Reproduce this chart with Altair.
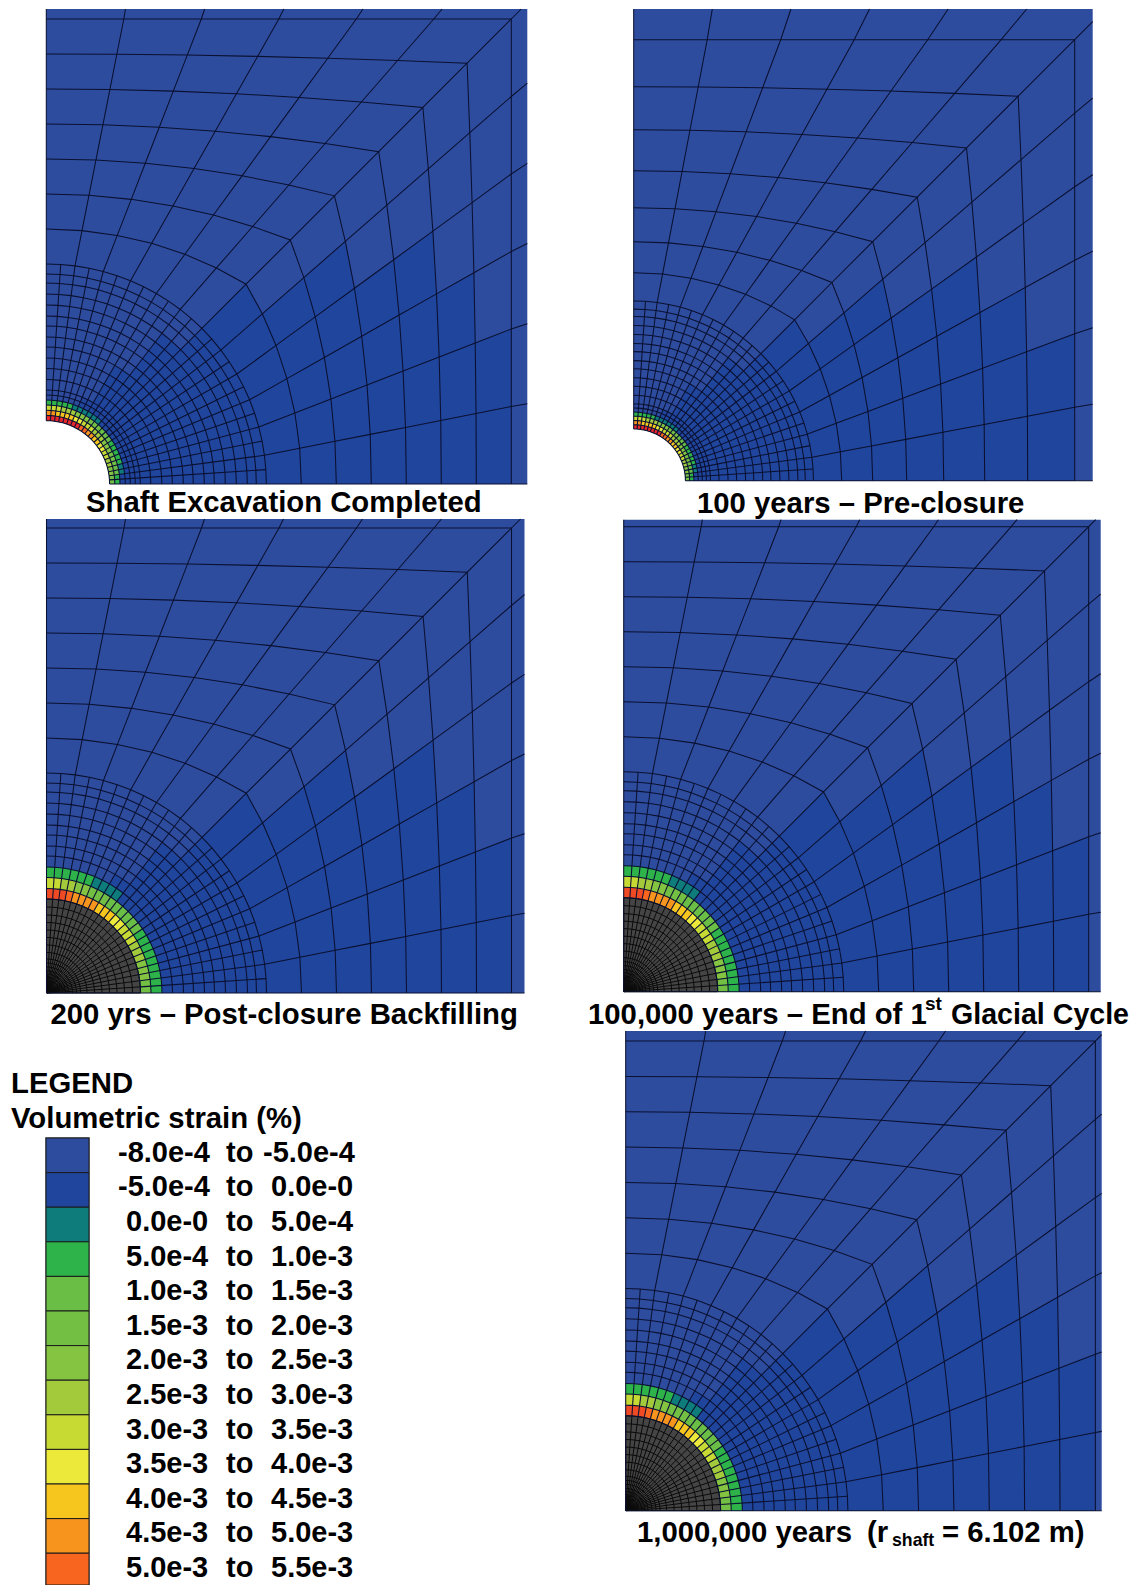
import math
import altair as alt
import pandas as pd

alt.data_transformers.disable_max_rows()

FONT = "Liberation Sans"
# legend colour table, index = strain class
PALETTE = ["#2E4C9E", "#20459C", "#0E7C7B", "#2DB34A", "#6ABD45", "#72BF44", "#85C441",
           "#A2CA3A", "#C7DA34", "#EDE93B", "#F6C51E", "#F7941D", "#F7651F", "#E8272A", "#EF4A24"]
LEGEND_LABELS = [("-8.0e-4", "-5.0e-4"), ("-5.0e-4", "0.0e-0"), ("0.0e-0", "5.0e-4"), ("5.0e-4", "1.0e-3"),
                 ("1.0e-3", "1.5e-3"), ("1.5e-3", "2.0e-3"), ("2.0e-3", "2.5e-3"), ("2.5e-3", "3.0e-3"),
                 ("3.0e-3", "3.5e-3"), ("3.5e-3", "4.0e-3"), ("4.0e-3", "4.5e-3"), ("4.5e-3", "5.0e-3"),
                 ("5.0e-3", "5.5e-3")]

# radii of the fine mesh (px at full scale)
R_THIN = [63.3, 68.5, 73.7, 79, 84, 89, 94]
R_FINE = [94, 104.5, 115.5, 126, 137, 147, 158, 168, 179, 190, 201, 210, 220]
R_CORE = [3, 5, 7, 9, 11, 13, 16, 19, 22, 26, 30, 34, 40.5, 48, 55.5, 63, 70.5, 78, 86, 94]
LEFT_STD = [220, 255, 290, 325, 360, 395, 430, 465]
LEFT_P2 = [180, 208, 239, 273, 310, 351, 394, 441]

# panels: origin x, origin y, frame width, frame height, inner scale, ring list, excavated?
PANELS = [
    (46.3, 484.0, 481, 475, 1.0, LEFT_STD, False),
    (633.7, 480.7, 459, 471.7, 0.817, LEFT_P2, False),
    (46.5, 993.0, 478, 474, 1.0, LEFT_STD, True),
    (623.7, 991.7, 477, 472, 1.0, LEFT_STD, True),
    (625.7, 1510.7, 476, 479.7, 1.01, [v * 1.01 for v in LEFT_STD], True),
]

# strain class per 3.75 degree sector, from the top round to the right
THIN_BANDS = [
    [13] * 8 + [12] * 2 + [11] * 2 + [10] * 2 + [9] * 2 + [8] * 2 + [7] * 2 + [6] * 2 + [5] * 2,
    [11] * 2 + [10] * 4 + [9] * 2 + [8] * 3 + [7] * 3 + [6] * 3 + [5] * 3 + [4] * 2 + [3] * 2,
    [8] * 3 + [7] * 3 + [6] * 3 + [5] * 3 + [4] * 3 + [3] * 5 + [2] * 2 + [1] * 2,
    [3] * 5 + [2] * 6 + [1] * 13,
]
FILL_BANDS = [
    [14] * 3 + [12] + [11] * 4 + [10] * 3 + [9] * 2 + [8] * 3 + [7] * 3 + [6] * 3 + [5] * 2,
    [8] * 2 + [7] * 2 + [6] * 2 + [5] * 3 + [4] * 6 + [3] * 9,
    [3] * 6 + [2] * 4 + [1] * 14,
]
# first darker-blue sector in each fine band (R_FINE order)
DARK_FINE_FROM = [8, 8, 8, 8, 10, 10, 10, 10, 10, 12, 12, 12]
DARK_THIN_FROM = [6, 6, 6, 6, 6, 6]
# coarse mesh: last darker-blue ring per 7.5 degree sector 6..11
DARK_COARSE = {6: 0, 7: 2, 8: 4, 9: 5, 10: 6, 11: 6}

TITLE_SIZE = 29.3
TITLES = [
    ("Shaft Excavation Completed", 86, 512, TITLE_SIZE),
    ("100 years \u2013 Pre-closure", 697, 513, TITLE_SIZE),
    ("200 yrs \u2013 Post-closure Backfilling", 50.5, 1024, TITLE_SIZE),
    ("100,000 years \u2013 End of 1", 588, 1024, TITLE_SIZE),
    ("st", 925, 1010, 19),
    ("Glacial Cycle", 951, 1024, 28.6),
    ("1,000,000 years", 637, 1542, TITLE_SIZE),
    ("(r", 867, 1542, TITLE_SIZE),
    ("shaft", 892, 1546, 17.7),
    ("= 6.102 m)", 942, 1542, TITLE_SIZE),
    ("LEGEND", 11, 1093, TITLE_SIZE),
    ("Volumetric strain (%)", 11, 1128, TITLE_SIZE),
]
ROW_TOP = 1138
ROW_H = 34.6
SW_X = (46.0, 89.0)
ROW_SIZE = 29


def polar(r, s):
    a = math.radians(3.75 * s)
    return r * math.sin(a), r * math.cos(a)


def coarse_node(left, k, j):
    """ring k, spoke j (0..12 from top to right)"""
    R1, L7 = left[0], left[7]
    m = j if j <= 6 else 12 - j
    a = math.radians(7.5 * m)
    p0 = (R1 * math.sin(a), R1 * math.cos(a))
    p7 = (L7 * m / 6, L7)
    f = (left[k] - R1) / (L7 - R1)
    x = p0[0] + (p7[0] - p0[0]) * f
    y = p0[1] + (p7[1] - p0[1]) * f
    return (x, y) if j <= 6 else (y, x)


polys, lines, core_lines = [], [], []
pid = lid = 0


def add_poly(pts, ox, oy, colour, layer):
    global pid
    pid += 1
    for i, (x, y) in enumerate(pts):
        polys.append(dict(id=pid, i=i, x=ox + x, y=oy - y, fill=colour, layer=layer))


def add_line(pts, ox, oy, target):
    global lid
    lid += 1
    for i, (x, y) in enumerate(pts):
        target.append(dict(id=lid, i=i, x=ox + x, y=oy - y))


for (ox, oy, W, H, sc, left, filled) in PANELS:
    r_thin = [r * sc for r in R_THIN]
    r_fine = [r * sc for r in R_FINE]
    r_core = [r * sc for r in R_CORE]
    r0 = r_thin[0]
    # base sheet with the shaft opening
    add_poly([(W, 0), (W, H), (0, H)] + [polar(r0, s) for s in range(0, 25)], ox, oy, PALETTE[0], 0)
    # darker blue, fine mesh
    for b, first in enumerate(DARK_FINE_FROM):
        for s in range(first, 24):
            add_poly([polar(r_fine[b], s), polar(r_fine[b + 1], s), polar(r_fine[b + 1], s + 1), polar(r_fine[b], s + 1)],
                     ox, oy, PALETTE[1], 1)
    for b, first in enumerate(DARK_THIN_FROM):
        for s in range(first, 24):
            add_poly([polar(r_thin[b], s), polar(r_thin[b + 1], s), polar(r_thin[b + 1], s + 1), polar(r_thin[b], s + 1)],
                     ox, oy, PALETTE[1], 1)
    # darker blue, coarse mesh
    for t, last in DARK_COARSE.items():
        for k in range(0, last + 1):
            add_poly([coarse_node(left, k, t), coarse_node(left, k + 1, t),
                      coarse_node(left, k + 1, t + 1), coarse_node(left, k, t + 1)],
                     ox, oy, PALETTE[1], 1)
    # strain bands
    if filled:
        add_poly([(0, 0)] + [polar(r_fine[0], s) for s in range(0, 25)], ox, oy, "#454545", 2)
        radii, bands = r_fine, FILL_BANDS
    else:
        radii, bands = r_thin, THIN_BANDS
    for b, band in enumerate(bands):
        for s, c in enumerate(band):
            add_poly([polar(radii[b], s), polar(radii[b + 1], s), polar(radii[b + 1], s + 1), polar(radii[b], s + 1)],
                     ox, oy, PALETTE[c], 2)
    # mesh lines, fine rings
    all_r = r_fine + ([] if filled else r_thin[:-1])
    for r in all_r:
        add_line([polar(r, s) for s in range(0, 25)], ox, oy, lines)
    for s in range(1, 24):
        add_line([polar(r_fine[-1], s), polar(r_fine[0] if filled else r0, s)], ox, oy, lines)
    if filled:
        for r in r_core:
            add_line([polar(r, s) for s in range(0, 25)], ox, oy, core_lines)
        for s in range(0, 25):
            add_line([polar(0.5, s), polar(r_core[-1], s)], ox, oy, core_lines)
    # coarse rings
    for k in range(1, 8):
        add_line([coarse_node(left, k, j) for j in range(0, 13)], ox, oy, lines)
    # coarse spokes to the frame
    for j in range(1, 12):
        pts = [coarse_node(left, k, j) for k in range(0, 8)]
        xe, ye = pts[-1]
        if j == 6:
            m = min(W, H)
            pts.append((m, m))
        elif j < 6:
            pts.append((xe * H / ye, H))
        else:
            pts.append((W, ye * W / xe))
        add_line(pts, ox, oy, lines)
    # frame axes
    add_line([(0, r0 if not filled else 0), (0, H)], ox, oy, lines)
    add_line([(r0 if not filled else 0, 0), (W, 0)], ox, oy, lines)

poly_df = pd.DataFrame(polys)
line_df = pd.DataFrame(lines)
core_df = pd.DataFrame(core_lines)

X = alt.X("x:Q", scale=alt.Scale(domain=[8, 1132], nice=False, zero=False), axis=None)
Y = alt.Y("y:Q", scale=alt.Scale(domain=[1585, 8], nice=False, zero=False), axis=None)


def poly_layer(level):
    return alt.Chart(poly_df[poly_df.layer == level]).mark_line(
        interpolate="linear-closed", stroke="transparent", clip=True
    ).encode(x=X, y=Y, detail="id:N", order="i:Q", fill=alt.Fill("fill:N", scale=None))


mesh = alt.Chart(line_df).mark_line(stroke="#0a1030", strokeWidth=1.05, clip=True).encode(
    x=X, y=Y, detail="id:N", order="i:Q")
core = alt.Chart(core_df).mark_line(stroke="#0a0a0a", strokeWidth=1.0, clip=True).encode(
    x=X, y=Y, detail="id:N", order="i:Q")

# legend
rows = []
for n, (a, b) in enumerate(LEGEND_LABELS):
    rows.append(dict(x=SW_X[0], x2=SW_X[1], y=ROW_TOP + n * ROW_H, y2=min(ROW_TOP + (n + 1) * ROW_H, 1585),
                     fill=PALETTE[n]))
rows_df = pd.DataFrame(rows)
sw_back = alt.Chart(pd.DataFrame([dict(x=SW_X[0] - 1, x2=SW_X[1] + 1, y=ROW_TOP - 1, y2=1585)])).mark_rect(
    fill="#8a8a8a", clip=True).encode(x=X, x2="x2:Q", y=Y, y2="y2:Q")
swatches = alt.Chart(rows_df).mark_rect(stroke="#1a1a1a", strokeWidth=1, clip=True).encode(
    x=X, x2="x2:Q", y=Y, y2="y2:Q", fill=alt.Fill("fill:N", scale=None))

texts = [dict(t=t, x=x, y=y, size=s) for t, x, y, s in TITLES]
for n, (a, b) in enumerate(LEGEND_LABELS):
    base = ROW_TOP + 23.7 + n * ROW_H
    texts.append(dict(t=a, x=118 if a.startswith("-") else 126, y=base, size=ROW_SIZE))
    texts.append(dict(t="to", x=226, y=base, size=ROW_SIZE))
    texts.append(dict(t=b, x=263 if b.startswith("-") else 271, y=base, size=ROW_SIZE))
text_df = pd.DataFrame(texts)
labels = alt.Chart(text_df).mark_text(font=FONT, fontWeight="bold", align="left", baseline="alphabetic",
                                      color="#000000").encode(
    x=X, y=Y, text="t:N", size=alt.Size("size:Q", scale=None))

chart = alt.layer(poly_layer(0), poly_layer(1), poly_layer(2), core, mesh, sw_back, swatches, labels).properties(
    width=1124, height=1577, padding=0, background="white"
).configure_view(stroke=None)

chart.save("out.html", embed_options={"renderer": "svg", "actions": False})
